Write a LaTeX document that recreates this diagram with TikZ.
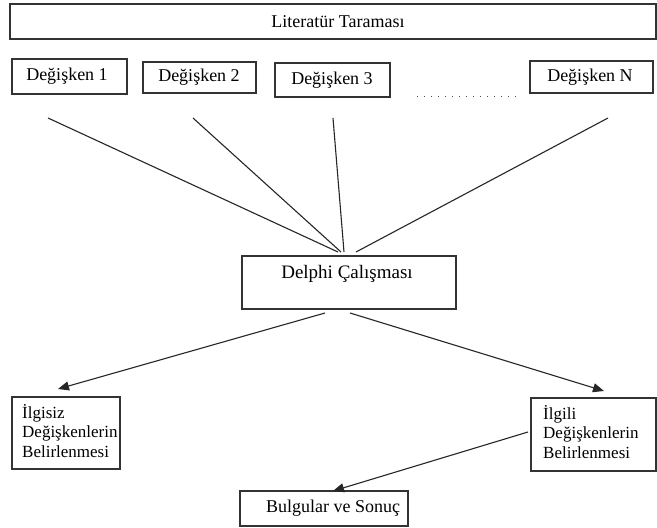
\documentclass[tikz,border=0pt]{standalone}
\usepackage{fontspec}
\setmainfont{Liberation Serif}
\usetikzlibrary{arrows.meta}
\begin{document}
\begin{tikzpicture}[x=1pt,y=-1pt,
  box/.style={draw=black!80,line width=1.4pt,inner sep=0pt},
  txt/.style={inner sep=0pt,font=\fontsize{18}{19.5}\selectfont},
  small/.style={inner sep=0pt,font=\fontsize{17}{19.5}\selectfont},
  ray/.style={draw=black!85,line width=1.1pt},
  arr/.style={draw=black!85,line width=1.1pt,-{Triangle[length=11pt,width=9pt]}}]
\useasboundingbox (0,0) rectangle (657,528);
\fill[white] (0,0) rectangle (657,528);
% top box
\draw[box] (10,4) rectangle (656,39);
\node[txt] (lit) at (338,21.5) {Literatür Taraması};
% variable boxes
\draw[box] (12,59) rectangle (127,94);
\node[txt] (v1) at (67,76) {Değişken 1};
\draw[box] (143,62) rectangle (256,93);
\node[txt] (v2) at (199,77) {Değişken 2};
\draw[box] (275,63) rectangle (390,97);
\node[txt] (v3) at (332,80) {Değişken 3};
\draw[box] (530,61) rectangle (653,93);
\node[txt] (vN) at (590,77) {Değişken N};
\draw[black!70,line width=1pt,dash pattern=on 1.3pt off 5.7pt] (417,96) -- (516,96);
% Delphi
\draw[box] (242,256) rectangle (456,309);
\node[txt,font=\fontsize{19}{21}\selectfont] (del) at (347,274) {Delphi Çalışması};
% rays
\coordinate (r1a) at (48,118); \coordinate (r1b) at (338,252);
\coordinate (r2a) at (193,118); \coordinate (r2b) at (341,252);
\coordinate (r3a) at (333,118); \coordinate (r3b) at (344,252);
\coordinate (r4a) at (608,118); \coordinate (r4b) at (356,252);
\draw[ray] (r1a) -- (r1b);
\draw[ray] (r2a) -- (r2b);
\draw[ray] (r3a) -- (r3b);
\draw[ray] (r4a) -- (r4b);
% lower boxes
\draw[box] (12,397) rectangle (120,469);
\node[small,align=left,anchor=north west] (ilgisiz) at (22,404) {İlgisiz\\Değişkenlerin\\Belirlenmesi};
\draw[box] (531,398) rectangle (656,471);
\node[small,align=left,anchor=north west] (ilgili) at (543,405) {İlgili\\Değişkenlerin\\Belirlenmesi};
\draw[box] (240,491) rectangle (408,526);
\node[txt] (bul) at (333,508) {Bulgular ve Sonuç};
% arrows
\coordinate (a1s) at (325,313); \coordinate (a1e) at (58,389);
\coordinate (a2s) at (350,313); \coordinate (a2e) at (604,391);
\coordinate (a3s) at (528,432); \coordinate (a3e) at (333,491);
\draw[arr] (a1s) -- (a1e);
\draw[arr] (a2s) -- (a2e);
\draw[arr] (a3s) -- (a3e);
\end{tikzpicture}
\end{document}
